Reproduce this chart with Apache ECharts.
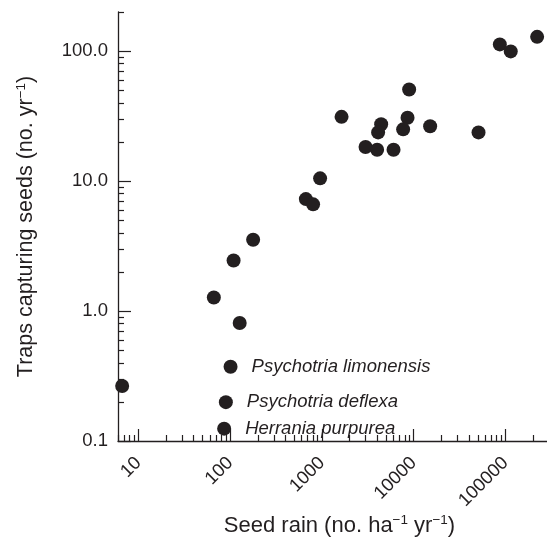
<!DOCTYPE html>
<html>
<head>
<meta charset="utf-8">
<script src="https://cdn.jsdelivr.net/npm/echarts@6/dist/echarts.min.js"></script>
<style>
html,body{margin:0;padding:0;background:#fff;}
#chart{width:547px;height:538px;}
</style>
</head>
<body>
<div id="chart"></div>
<script>
// Data
const seedRain = [86700, 114000, 221000, 8910, 1635, 4416, 4093, 8560, 7665, 15090, 50800, 2985, 3990, 6025, 955, 668, 801, 178, 109, 66.4, 127, 6.66];
const traps    = [112.6, 99.5, 128.8, 50.7, 31.2, 27.4, 23.7, 30.7, 25.0, 26.4, 23.7, 18.3, 17.4, 17.4, 10.5, 7.27, 6.62, 3.54, 2.45, 1.27, 0.809, 0.265];

const speciesNames = ['Psychotria limonensis', 'Psychotria deflexa', 'Herrania purpurea'];
const speciesSeedRain = [101, 89.8, 86.0];
const speciesTraps = [0.373, 0.199, 0.1245];

// Axis ticks
const xMajorTicks = [10, 100, 1000, 10000, 100000];
const xMinorTicks = [6, 7, 8, 9, 20, 30, 40, 50, 60, 70, 80, 90, 200, 300, 400, 500, 600, 700, 800, 900,
  2000, 3000, 4000, 5000, 6000, 7000, 8000, 9000, 20000, 30000, 40000, 50000, 60000, 70000, 80000, 90000, 200000];
const yMajorTicks = [0.1, 1, 10, 100];
const yMinorTicks = [0.2, 0.3, 0.4, 0.5, 0.6, 0.7, 0.8, 0.9, 2, 3, 4, 5, 6, 7, 8, 9, 20, 30, 40, 50, 60, 70, 80, 90, 200];

const xMin = 6, xMax = 283000, yMin = 0.1, yMax = 200;

const ink = '#231f20';
const font = '"Liberation Sans", Arial, Helvetica, sans-serif';

const points = seedRain.map((x, i) => [x, traps[i]]);
const speciesPoints = speciesSeedRain.map((x, i) => ({ value: [x, speciesTraps[i]], name: speciesNames[i] }));

const chart = echarts.init(document.getElementById('chart'));
const xTitleRich = {
  t: { fontSize: 22, fontFamily: font, color: ink, lineHeight: 25 },
  s: { fontSize: 13.5, fontFamily: font, color: ink, lineHeight: 12, verticalAlign: 'top' }
};
const yTitleRich = {
  t: { fontSize: 21.5, fontFamily: font, color: ink, lineHeight: 25 },
  s: { fontSize: 13.5, fontFamily: font, color: ink, lineHeight: 12, verticalAlign: 'top' }
};
chart.setOption({
  animation: false,
  backgroundColor: '#fff',
  grid: { left: 118, top: 12, right: 0, bottom: 97, containLabel: false, outerBoundsMode: 'none' },
  xAxis: [
    {
      type: 'log', min: xMin, max: xMax, position: 'bottom',
      axisLine: { show: true, onZero: false, lineStyle: { color: ink, width: 1.3 } },
      axisTick: { show: true, inside: true, length: 12, customValues: xMajorTicks, lineStyle: { color: ink, width: 1.2 } },
      axisLabel: {
        show: true, customValues: xMajorTicks, rotate: 45, margin: 19,
        fontSize: 18.5, fontFamily: font, color: ink,
        formatter: v => String(Math.round(v))
      },
      splitLine: { show: false },
      minorTick: { show: false },
      name: '{t|Seed rain (no. ha}{s|−1}{t| yr}{s|−1}{t|)}',
      nameLocation: 'middle', nameGap: 72, nameMoveOverlap: false,
      nameTextStyle: { fontSize: 22, fontFamily: font, color: ink, rich: xTitleRich, padding: [0, 0, 0, 14] }
    },
    {
      type: 'log', min: xMin, max: xMax, position: 'bottom',
      axisLine: { show: false, onZero: false },
      axisTick: { show: true, inside: true, length: 6, customValues: xMinorTicks, lineStyle: { color: ink, width: 1.2 } },
      axisLabel: { show: false },
      splitLine: { show: false }
    }
  ],
  yAxis: [
    {
      type: 'log', min: yMin, max: yMax, position: 'left',
      axisLine: { show: true, onZero: false, lineStyle: { color: ink, width: 1.3 } },
      axisTick: { show: true, inside: true, length: 13, customValues: yMajorTicks, lineStyle: { color: ink, width: 1.2 } },
      axisLabel: {
        show: true, customValues: yMajorTicks, margin: 10,
        fontSize: 18.5, fontFamily: font, color: ink,
        formatter: v => Number(v).toFixed(1)
      },
      splitLine: { show: false },
      name: '{t|Traps capturing seeds (no. yr}{s|−1}{t|)}',
      nameLocation: 'middle', nameGap: 79, nameRotate: 90, nameMoveOverlap: false,
      nameTextStyle: { fontSize: 21.5, fontFamily: font, color: ink, rich: yTitleRich }
    },
    {
      type: 'log', min: yMin, max: yMax, position: 'left',
      axisLine: { show: false, onZero: false },
      axisTick: { show: true, inside: true, length: 6, customValues: yMinorTicks, lineStyle: { color: ink, width: 1.2 } },
      axisLabel: { show: false },
      splitLine: { show: false }
    }
  ],
  series: [
    {
      type: 'scatter', xAxisIndex: 0, yAxisIndex: 0,
      symbol: 'circle', symbolSize: 14,
      itemStyle: { color: ink, opacity: 1 },
      data: points, clip: false
    },
    {
      type: 'scatter', xAxisIndex: 0, yAxisIndex: 0,
      symbol: 'circle', symbolSize: 14,
      itemStyle: { color: ink, opacity: 1 },
      data: speciesPoints, clip: false,
      label: {
        show: true, position: 'right', distance: 14,
        formatter: p => p.name,
        fontSize: 18.5, fontStyle: 'italic', fontFamily: font, color: ink
      }
    }
  ]
});
</script>
</body>
</html>
